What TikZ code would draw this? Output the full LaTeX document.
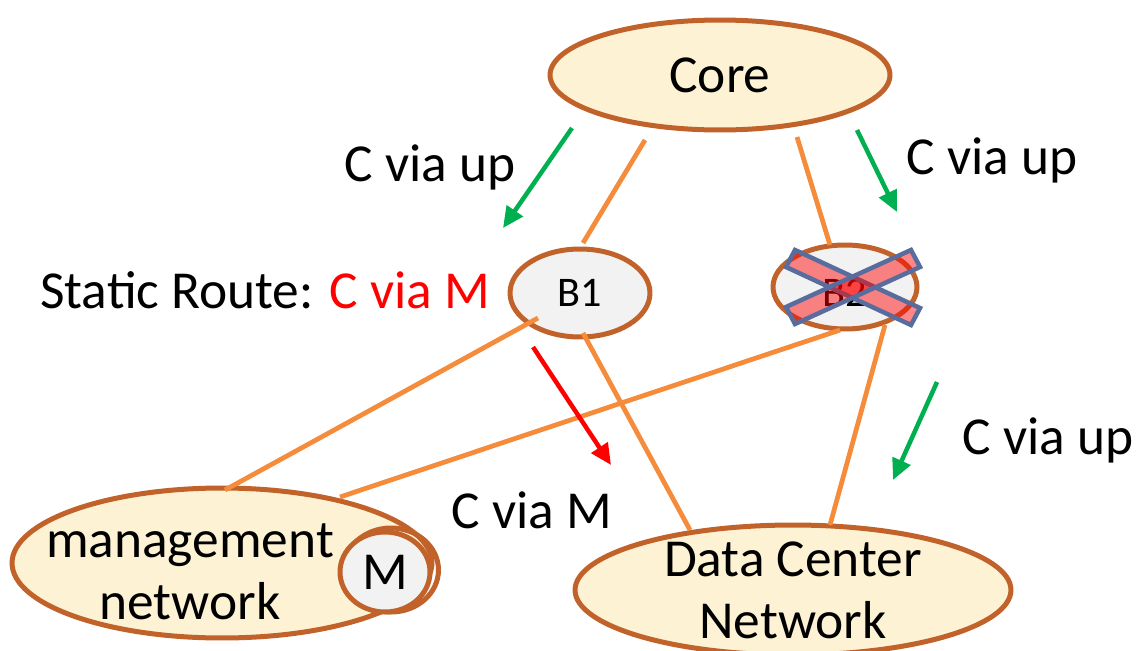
\documentclass[tikz,border=0pt]{standalone}
\usepackage{fontspec}
\setmainfont{Carlito}
\usetikzlibrary{shapes.geometric,calc,arrows.meta}
\definecolor{bord}{RGB}{192,98,42}
\definecolor{yel}{RGB}{253,243,212}
\definecolor{gry}{RGB}{242,242,242}
\definecolor{org}{RGB}{245,140,60}
\definecolor{grn}{RGB}{0,176,80}
\definecolor{xblue}{RGB}{88,108,158}
\begin{document}
\begin{tikzpicture}[x=0.02cm,y=-0.02cm,
  big/.style={font=\fontsize{30.4}{35.2}\selectfont},
  small/.style={font=\fontsize{24}{28}\selectfont},
  ell/.style={ellipse,draw=bord,line width=0.1cm,inner sep=0pt,fill=yel},
  rtr/.style={ellipse,draw=bord,line width=0.1cm,inner sep=0pt,fill=gry},
  link/.style={draw=org,line width=0.095cm},
  garrow/.style={draw=grn,line width=0.09cm,-{Triangle[length=0.42cm,width=0.38cm]}},
  rarrow/.style={draw=red,line width=0.09cm,-{Triangle[length=0.42cm,width=0.38cm]}},
  xbar/.style={fill=red,fill opacity=0.47,draw=xblue,draw opacity=1,line width=0.09cm}]
\useasboundingbox (0,0) rectangle (1137,650);
\fill[white] (0,0) rectangle (1137,650);
% nodes
\node[ell,minimum width=6.8cm,minimum height=2.2cm] (core) at (720,75) {};
\node[big] at (720,75) {Core};
\node[rtr,minimum width=2.8cm,minimum height=1.76cm] (b1) at (580,293) {};
\node[small] at (580,293) {B1};
\node[rtr,minimum width=2.88cm,minimum height=1.68cm] (b2) at (845,287) {};
\node[small] at (845,293) {B2};
\node[ell,minimum width=8.4cm,minimum height=3.0cm] (mgmt) at (222,563) {};
\node[big,align=center] at (190,572) {management\\network};
\node[draw=bord,ellipse,line width=0.1cm,minimum width=1.9cm,minimum height=1.68cm] (mring) at (391,570) {};
\node[rtr,minimum width=1.8cm,minimum height=1.6cm,big] (m) at (385,572) {M};
\node[ell,minimum width=8.72cm,minimum height=2.6cm] (dcn) at (793,590) {};
\node[big,align=center] at (793,590) {Data Center\\Network};
% links
\draw[link] ($(core)+(-75,65)$) -- ($(b1)+(3,-50)$);
\draw[link] ($(core)+(77,62)$) -- ($(b2)+(-15,-42)$);
\draw[link] ($(b1)+(-42,25)$) -- ($(mgmt)+(3,-73)$);
\draw[link] ($(b1)+(3,40)$) -- ($(dcn)+(-103,-60)$);
\draw[link] ($(b2)+(-5,43)$) -- ($(mgmt)+(118,-66)$);
\draw[link] ($(b2)+(40,38)$) -- ($(dcn)+(37,-65)$);
% cross on B2
\draw[xbar] (795,250) -- (920,308) -- (911,325) -- (786,267) -- cycle;
\draw[xbar] (786,307) -- (911,250) -- (920,267) -- (795,324) -- cycle;
% arrows
\draw[garrow] (572,128) -- (503,228);
\draw[garrow] (857,130) -- (897,212);
\draw[garrow] (937,382) -- (893,480);
\draw[rarrow] (533,347) -- (611,465);
% labels
\node[big] (l1) at (430,167) {C via up};
\node[big] (l2) at (992,160) {C via up};
\node[big] (l3) at (1048,440) {C via up};
\node[big] (l4) at (532,510) {C via M};
\node[big,anchor=west] (l5) at (34,290) {Static Route: \textcolor{red}{C via M}};
\end{tikzpicture}
\end{document}
